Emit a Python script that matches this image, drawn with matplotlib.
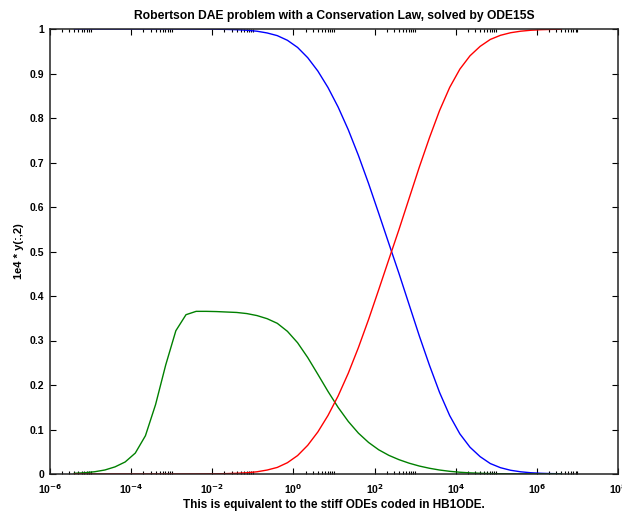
import matplotlib

matplotlib.use("Agg")
import matplotlib.pyplot as plt
from matplotlib.ticker import FixedLocator, NullFormatter

plt.rcParams["font.family"] = ["Liberation Sans", "DejaVu Sans"]
plt.rcParams["font.weight"] = "bold"
plt.rcParams["mathtext.default"] = "bf"

# output times (4*logspace), quarter decades
t = [4e-6, 7.11e-6, 1.265e-5, 2.25e-5, 4e-5, 7.11e-5, 1.265e-4, 2.25e-4,
     4e-4, 7.11e-4, 1.265e-3, 2.25e-3, 4e-3, 7.11e-3, 1.265e-2, 2.25e-2,
     4e-2, 7.11e-2, 0.1265, 0.225, 0.4, 0.711, 1.265, 2.25,
     4.0, 7.11, 12.65, 22.5, 40.0, 71.1, 126.5, 225.0,
     400.0, 711.0, 1265.0, 2250.0, 4000.0, 7110.0, 12650.0, 22500.0,
     4e4, 7.11e4, 1.265e5, 2.25e5, 4e5, 7.11e5, 1.265e6, 2.25e6, 4e6]

y1 = [1.0, 1.0, 1.0, 1.0, 1.0, 1.0, 1.0, 1.0,
      1.0, 1.0, 0.99995, 0.9999, 0.9998, 0.9997, 0.9995, 0.9991,
      0.9984, 0.9972, 0.9950, 0.9911, 0.9851, 0.9746, 0.9586, 0.9355,
      0.9055, 0.8685, 0.8245, 0.7735, 0.7158, 0.6528, 0.5858, 0.5178,
      0.4505, 0.3805, 0.3105, 0.2445, 0.1832, 0.1312, 0.0902, 0.0602,
      0.0390, 0.0235, 0.0142, 0.0084, 0.00494, 0.00281, 0.0016, 0.00091, 0.00052]

# 1e4 * y(:,2)
y2s = [0.0016, 0.0028, 0.0051, 0.0090, 0.0160, 0.0270, 0.0470, 0.0860,
       0.1560, 0.2450, 0.3220, 0.3580, 0.3655, 0.3655, 0.3650, 0.3640,
       0.3630, 0.3605, 0.356, 0.349, 0.3386, 0.3206, 0.295, 0.2617,
       0.2240, 0.1856, 0.1496, 0.1181, 0.0918, 0.0709, 0.0544, 0.0419,
       0.0322, 0.0243, 0.0179, 0.0129, 0.00894, 0.00604, 0.00397, 0.00256,
       0.00162, 0.00096, 0.00058, 0.00034, 0.00020, 0.00011, 0.000064, 0.000036, 0.000021]

y3 = [0.0, 0.0, 0.0, 0.0, 0.0, 0.0, 0.0, 0.0,
      0.0, 0.0, 0.00002, 0.00005, 0.00012, 0.00025, 0.00047, 0.00087,
      0.0016, 0.0028, 0.0050, 0.0089, 0.0148, 0.0254, 0.0414, 0.0645,
      0.0945, 0.1315, 0.1755, 0.2265, 0.2842, 0.3472, 0.4142, 0.4822,
      0.5495, 0.6195, 0.6895, 0.7555, 0.8168, 0.8688, 0.9098, 0.9398,
      0.9610, 0.9765, 0.9858, 0.9916, 0.99506, 0.99719, 0.9984, 0.99909, 0.99948]

xticks = [1e-6, 1e-4, 1e-2, 1e0, 1e2, 1e4, 1e6, 1e8]
xticklabels = [r"10$^{-6}$", r"10$^{-4}$", r"10$^{-2}$", r"10$^{0}$",
               r"10$^{2}$", r"10$^{4}$", r"10$^{6}$", r"10$^{8}$"]
yticks = [0, 0.1, 0.2, 0.3, 0.4, 0.5, 0.6, 0.7, 0.8, 0.9, 1]
yticklabels = ["0", "0.1", "0.2", "0.3", "0.4", "0.5", "0.6", "0.7", "0.8", "0.9", "1"]

fig = plt.figure(figsize=(6.22, 5.11), dpi=100)
ax = fig.add_axes([50 / 622, 1 - 474 / 511, 568 / 622, 445 / 511])

ax.semilogx(t, y1, color="#0000ff", lw=1.0)
ax.semilogx(t, y2s, color="#008000", lw=1.0)
ax.semilogx(t, y3, color="#ff0000", lw=1.0)

ax.set_xlim(1e-6, 1e8)
ax.set_ylim(0, 1)
ax.set_xticks(xticks)
ax.set_xticklabels(xticklabels)
# matlab style minor ticks: only in the decade after each labelled one
minor = [k * 10.0 ** e for e in range(-6, 8, 2) for k in range(2, 11)]
ax.xaxis.set_minor_locator(FixedLocator(minor))
ax.xaxis.set_minor_formatter(NullFormatter())
ax.set_yticks(yticks)
ax.set_yticklabels(yticklabels)

ax.tick_params(which="both", direction="in", top=True, right=True,
               labelsize=7.5, width=0.8, color="black")
ax.tick_params(which="major", length=4.5)
ax.tick_params(axis="x", which="major", pad=6)
ax.tick_params(axis="y", which="major", pad=4)
ax.tick_params(which="minor", length=2.5)
for s in ax.spines.values():
    s.set_linewidth(1.1)
    s.set_color("#222222")

ax.set_title("Robertson DAE problem with a Conservation Law, solved by ODE15S",
             fontsize=8.7, fontweight="bold", pad=7)
ax.set_xlabel("This is equivalent to the stiff ODEs coded in HB1ODE.",
              fontsize=8.5, fontweight="bold", labelpad=2)
ax.set_ylabel("1e4 * y(:,2)", fontsize=8, fontweight="bold", labelpad=4)

fig.savefig("out.png", dpi=100)
